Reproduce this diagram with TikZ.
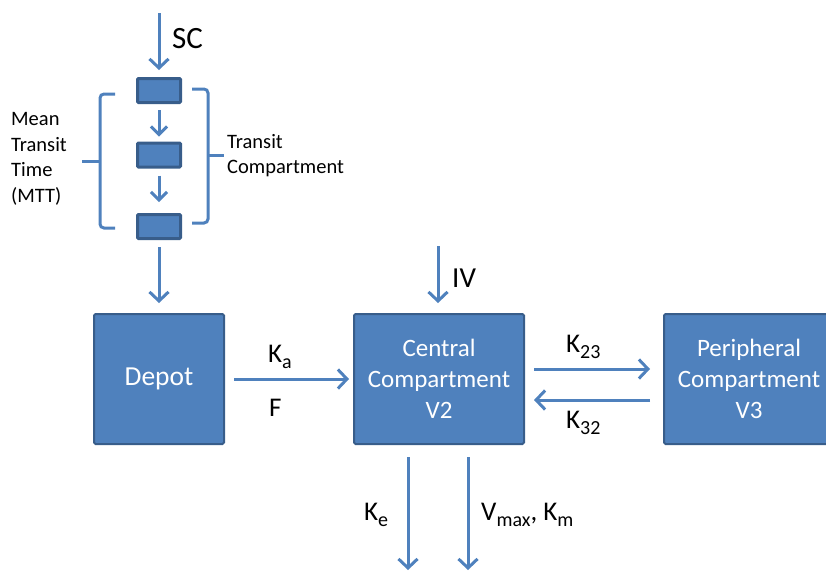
\documentclass[tikz,border=0pt]{standalone}
\usepackage{fontspec}
\setmainfont{Carlito}
\usetikzlibrary{arrows.meta}
\definecolor{boxblue}{HTML}{4F81BD}
\definecolor{boxedge}{HTML}{385D8A}
\definecolor{arrblue}{HTML}{4F81BD}
\newcommand\lowsub[1]{\raisebox{-6pt}{\fontsize{20}{20}\selectfont #1}}
\begin{document}
\begin{tikzpicture}[x=1pt,y=-1pt,
  bigbox/.style={draw=boxedge,fill=boxblue,line width=2pt,rounded corners=1.5pt,
    minimum width=170pt,minimum height=130pt,inner sep=0pt,text=white,align=center,
    font=\fontsize{25}{31}\selectfont},
  smallbox/.style={draw=boxedge,fill=boxblue,line width=3pt,rounded corners=1pt,
    minimum width=43pt,minimum height=24pt,inner sep=0pt},
  flow/.style={draw=arrblue,line width=3pt,-{Straight Barb[length=9pt,width=19pt,line width=3pt]}},
  smallflow/.style={draw=arrblue,line width=3pt,-{Straight Barb[length=8pt,width=16pt,line width=3pt]}},
  brace/.style={draw=arrblue,line width=3pt,rounded corners=4pt},
  lbl/.style={anchor=base west,inner sep=0pt,font=\fontsize{27}{32}\selectfont},
  smalllbl/.style={anchor=north west,inner sep=0pt,align=left,font=\fontsize{20.5}{25.7}\selectfont},
]
\useasboundingbox (0,0) rectangle (826,571);
\clip (0,0) rectangle (826,571);

% transit compartments
\node[smallbox] (t1) at (159,90.5) {};
\node[smallbox] (t2) at (159,155) {};
\node[smallbox] (t3) at (159,226.5) {};

% main compartments
\node[bigbox,minimum width=130pt,font=\fontsize{27.5}{31}\selectfont] (depot) at (159,379) {Depot};
\node[bigbox] (central) at (439,379) {Central\\Compartment\\V2};
\node[bigbox] (periph) at (749,379) {Peripheral\\Compartment\\V3};

% coordinates for free ends
\coordinate (scin) at (159,13);
\coordinate (ivin) at (438,246);
\coordinate (keout) at (408,570);
\coordinate (vmout) at (468,570);

% arrows
\draw[flow,shorten >=7pt] (scin) -- (t1.north);
\draw[smallflow,shorten <=6pt,shorten >=5pt] (t1.south) -- (t2.north);
\draw[smallflow,shorten <=7pt,shorten >=11pt] (t2.south) -- (t3.north);
\draw[flow,shorten <=7pt,shorten >=10pt] (t3.south) -- (depot.north);
\draw[flow,shorten <=9pt,shorten >=4pt] (depot.east) -- (central.west);
\draw[flow,shorten >=10pt] (ivin) -- (ivin |- central.north);
\draw[flow,shorten <=9pt,shorten >=13pt] ([yshift=10pt]central.east) -- ([yshift=10pt]periph.west);
\draw[flow,shorten <=13pt,shorten >=9pt] ([yshift=-21pt]periph.west) -- ([yshift=-21pt]central.east);
\draw[flow,shorten <=12pt] (keout |- central.south) -- (keout);
\draw[flow,shorten <=12pt] (vmout |- central.south) -- (vmout);

% braces
\draw[brace] (115,94) -- (100,94) -- (100,228) -- (115,228);
\draw[brace] (100,161) -- (82,161);
\draw[brace] (192,89) -- (208,89) -- (208,223) -- (192,223);
\draw[brace] (208,155) -- (224,155);

% labels
\node[lbl,font=\fontsize{31}{36}\selectfont] (sc) at (172,48) {SC};
\node[lbl,font=\fontsize{29}{34}\selectfont] (iv) at (452,287) {IV};
\node[lbl] (ka) at (268,362) {K\lowsub{a}};
\node[lbl] (f) at (269,416) {F};
\node[lbl] (k23) at (566,352) {K\lowsub{23}};
\node[lbl] (k32) at (566,428) {K\lowsub{32}};
\node[lbl] (ke) at (364,520) {K\lowsub{e}};
\node[lbl] (vm) at (481,520) {V\lowsub{max}, K\lowsub{m}};
\node[smalllbl] (mtt) at (11,112) {Mean\\Transit\\Time\\(MTT)};
\node[smalllbl,font=\fontsize{20.5}{25}\selectfont] (tc) at (227,134) {Transit\\Compartment};
\end{tikzpicture}
\end{document}
